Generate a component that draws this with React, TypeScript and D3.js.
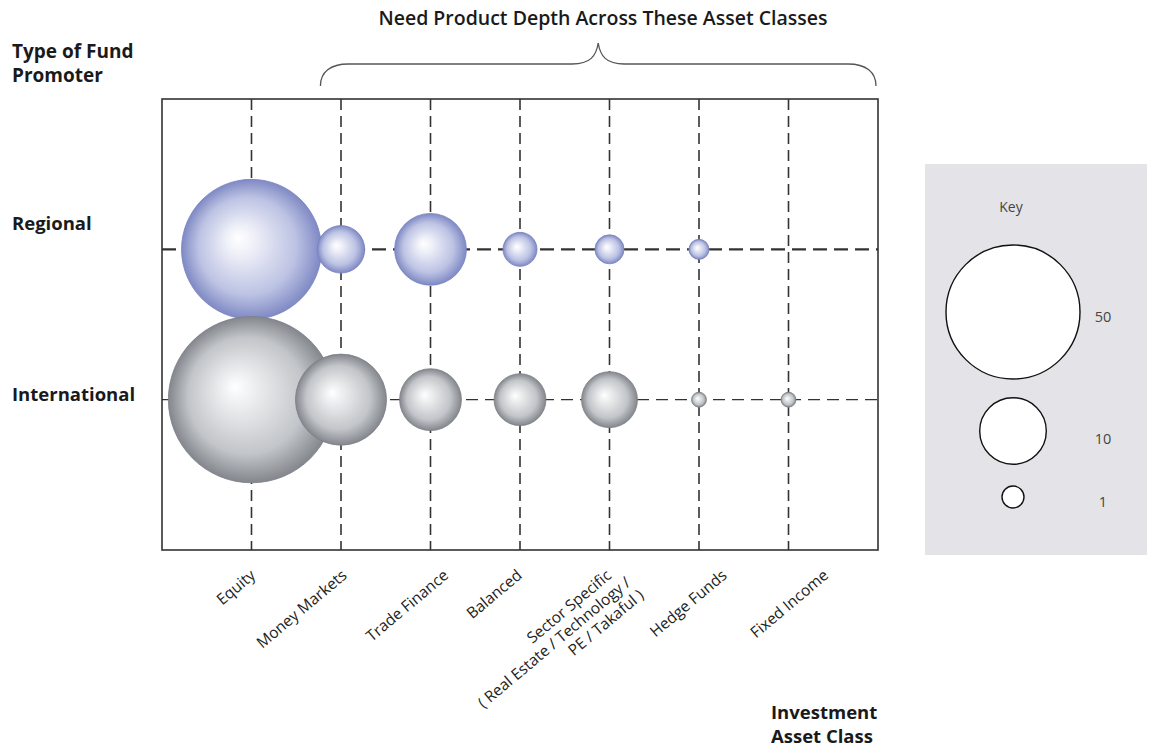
import React from "react";
import * as d3 from "d3";

// Asset classes across the horizontal axis (one entry per column)
const assetClasses = [
  "Equity",
  "Money Markets",
  "Trade Finance",
  "Balanced",
  "Sector Specific",
  "Hedge Funds",
  "Fixed Income",
];

// Label lines for each asset class (multi-line where the label wraps)
const assetClassLabelLines = [
  ["Equity"],
  ["Money Markets"],
  ["Trade Finance"],
  ["Balanced"],
  ["Sector Specific", "( Real Estate / Technology /", "PE / Takaful )"],
  ["Hedge Funds"],
  ["Fixed Income"],
];

// Fund promoter types down the vertical axis
const promoterTypes = ["Regional", "International"];

// Number of funds per asset class for each promoter type
const regionalFunds = [55, 5, 12, 2.5, 1.8, 0.83, 0];
const internationalFunds = [80, 21, 8.6, 6, 7, 0.46, 0.46];

// Reference sizes shown in the key
const keyValues = [50, 10, 1];

const W = 1149;
const H = 747;

// Plot frame
const frame = { left: 162, right: 878, top: 99, bottom: 550 };

const x = d3
  .scalePoint<string>()
  .domain(assetClasses)
  .range([frame.left, frame.right])
  .padding(1);

const y = d3
  .scalePoint<string>()
  .domain(promoterTypes)
  .range([frame.top, frame.bottom])
  .padding(1);

// Bubble radius: area-based (sqrt) scale, calibrated against the key sizes
const r = d3.scaleSqrt().domain([0, 1, 10, 50]).range([0, 11, 33.3, 67]);

// Horizontal nudges for the rotated category labels
const labelNudge = [5, 7, 19, 3, 3, 29, 41];

const seriesByPromoter: Record<string, number[]> = {
  Regional: regionalFunds,
  International: internationalFunds,
};

const gradientId: Record<string, string> = {
  Regional: "bubble-blue",
  International: "bubble-grey",
};

const edgeColour: Record<string, string> = {
  Regional: "#7781bd",
  International: "#7c8086",
};

const font = "'Open Sans', 'Noto Sans', sans-serif";

export default function App() {
  const step = x.step();
  const braceLeft = (x("Money Markets") as number) - step * 0.23;
  const braceRight = frame.right - 2;
  const braceMid = (braceLeft + braceRight) / 2;
  const braceTop = 43;
  const braceFlat = 64;
  const braceEnd = 86;
  const bracePath = [
    `M${braceLeft},${braceEnd}`,
    `C${braceLeft},${braceFlat + 8} ${braceLeft + 10},${braceFlat} ${braceLeft + 28},${braceFlat}`,
    `L${braceMid - 26},${braceFlat}`,
    `C${braceMid - 8},${braceFlat} ${braceMid - 2},${braceFlat - 8} ${braceMid},${braceTop}`,
    `C${braceMid + 2},${braceFlat - 8} ${braceMid + 8},${braceFlat} ${braceMid + 26},${braceFlat}`,
    `L${braceRight - 28},${braceFlat}`,
    `C${braceRight - 10},${braceFlat} ${braceRight},${braceFlat + 8} ${braceRight},${braceEnd}`,
  ].join(" ");

  const bubbles: { key: string; cx: number; cy: number; rad: number; promoter: string }[] = [];
  promoterTypes.forEach((p) => {
    seriesByPromoter[p].forEach((v, i) => {
      if (v > 0) {
        bubbles.push({
          key: `${p}-${assetClasses[i]}`,
          cx: x(assetClasses[i]) as number,
          cy: y(p) as number,
          rad: r(v),
          promoter: p,
        });
      }
    });
  });

  const keyX = 1013;
  const keyY = [312, 431, 497];

  return (
    <svg
      width={W}
      height={H}
      viewBox={`0 0 ${W} ${H}`}
      style={{ position: "absolute", left: 0, top: 0, background: "#fff" }}
    >
      <defs>
        <radialGradient id="bubble-blue" cx="0.5" cy="0.5" r="0.5" fx="0.4" fy="0.42">
          <stop offset="0" stopColor="#ffffff" />
          <stop offset="0.18" stopColor="#f1f2f9" />
          <stop offset="0.7" stopColor="#bcc2e3" />
          <stop offset="1" stopColor="#7f89c4" />
        </radialGradient>
        <radialGradient id="bubble-grey" cx="0.5" cy="0.5" r="0.5" fx="0.4" fy="0.42">
          <stop offset="0" stopColor="#ffffff" />
          <stop offset="0.18" stopColor="#eff0f1" />
          <stop offset="0.7" stopColor="#c2c5c9" />
          <stop offset="1" stopColor="#83878d" />
        </radialGradient>
      </defs>

      {/* Heading and brace */}
      <text
        x={603}
        y={25}
        textAnchor="middle"
        fontFamily={font}
        fontWeight={600}
        fontSize={19.5}
        fill="#1a1a1a"
      >
        Need Product Depth Across These Asset Classes
      </text>
      <path d={bracePath} fill="none" stroke="#555" strokeWidth={1.3} />

      {/* Vertical axis title */}
      <text x={12} y={58} fontFamily={font} fontWeight={700} fontSize={19} fill="#1a1a1a">
        Type of Fund
      </text>
      <text x={12} y={82} fontFamily={font} fontWeight={700} fontSize={19} fill="#1a1a1a">
        Promoter
      </text>

      {/* Row labels */}
      <text x={12} y={(y("Regional") as number) - 19} fontFamily={font} fontWeight={700} fontSize={18.5} fill="#1a1a1a">
        Regional
      </text>
      <text x={12} y={(y("International") as number) + 1} fontFamily={font} fontWeight={700} fontSize={18.5} fill="#1a1a1a">
        International
      </text>

      {/* Dashed grid: columns */}
      {assetClasses.map((c) => (
        <line
          key={`v-${c}`}
          x1={x(c)}
          x2={x(c)}
          y1={frame.top}
          y2={frame.bottom}
          stroke="#333"
          strokeWidth={1.6}
          strokeDasharray="11,6"
        />
      ))}
      {/* Dashed grid: rows */}
      {promoterTypes.map((p, i) => (
        <line
          key={`h-${p}`}
          x1={frame.left}
          x2={frame.right}
          y1={y(p)}
          y2={y(p)}
          stroke="#333"
          strokeWidth={i === 0 ? 2.4 : 1.3}
          strokeDasharray={i === 0 ? "14,7" : "12,7"}
        />
      ))}

      {/* Bubbles */}
      {bubbles.map((b) => (
        <circle
          key={b.key}
          cx={b.cx}
          cy={b.cy}
          r={b.rad}
          fill={`url(#${gradientId[b.promoter]})`}
          stroke={edgeColour[b.promoter]}
          strokeWidth={0.8}
        />
      ))}

      {/* Frame */}
      <rect
        x={frame.left}
        y={frame.top}
        width={frame.right - frame.left}
        height={frame.bottom - frame.top}
        fill="none"
        stroke="#333"
        strokeWidth={1.6}
      />

      {/* Category labels */}
      {assetClasses.map((c, i) => {
        const ax = (x(c) as number) + labelNudge[i];
        const ay = frame.bottom + 27;
        const lines = assetClassLabelLines[i];
        return (
          <text
            key={`l-${c}`}
            transform={`translate(${ax},${ay}) rotate(-40)`}
            textAnchor="end"
            fontFamily={font}
            fontSize={15.5}
            fill="#222"
          >
            {lines.map((t, j) => (
              <tspan key={j} x={j === 0 ? 0 : 8 + j * 2} dy={j === 0 ? 0 : 18}>
                {t}
              </tspan>
            ))}
          </text>
        );
      })}

      {/* Horizontal axis title */}
      <text x={771} y={719} fontFamily={font} fontWeight={700} fontSize={18.5} fill="#1a1a1a">
        Investment
      </text>
      <text x={771} y={743} fontFamily={font} fontWeight={700} fontSize={18.5} fill="#1a1a1a">
        Asset Class
      </text>

      {/* Key */}
      <rect x={925} y={164} width={222} height={391} fill="#e4e4e8" />
      <text x={1011} y={212} textAnchor="middle" fontFamily={font} fontSize={14} fill="#444">
        Key
      </text>
      {keyValues.map((v, i) => (
        <g key={`k-${v}`}>
          <circle cx={keyX} cy={keyY[i]} r={r(v)} fill="#fff" stroke="#111" strokeWidth={1.4} />
          <text
            x={1103}
            y={keyY[i] + (i === 0 ? 10 : i === 1 ? 13 : 10)}
            textAnchor="middle"
            fontFamily={font}
            fontSize={14.5}
            fill="#444"
          >
            {v}
          </text>
        </g>
      ))}
    </svg>
  );
}
